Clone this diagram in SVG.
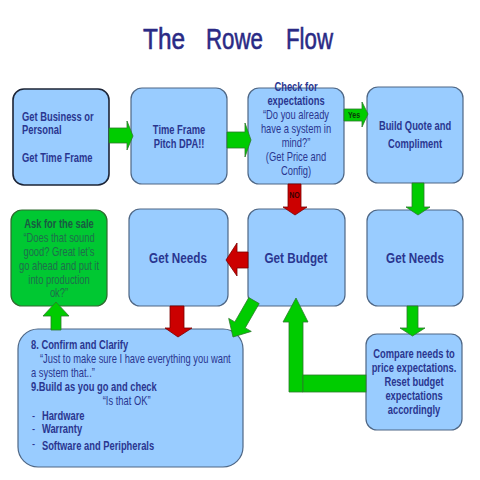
<svg xmlns="http://www.w3.org/2000/svg" width="480" height="480" viewBox="0 0 480 480">
<style>
.box{fill:#99ccff;stroke:#4f6785;stroke-width:1.2}
.gbox{fill:#00c832;stroke:#2f6a2f;stroke-width:1.2}
.ga{fill:#00cc00;stroke:#2c7a2c;stroke-width:0.8}
.ra{fill:#cc0000;stroke:#7a0000;stroke-width:0.8}
text{font-family:"Liberation Sans",Arial,sans-serif;font-size:12px;fill:#2a3690}
.b{font-weight:bold}
.big{font-size:15px;font-weight:bold}
.gt{fill:#1f6e4c}
.title{font-size:30px;fill:#2a2a85;stroke:#2a2a85;stroke-width:0.6}
.lbl{font-size:9px;font-weight:bold}
</style>
<rect width="480" height="480" fill="#ffffff"/>
<g id="title">
<text class="title" x="143" y="49" textLength="42" lengthAdjust="spacingAndGlyphs">The</text>
<text class="title" x="206" y="49" textLength="57" lengthAdjust="spacingAndGlyphs">Rowe</text>
<text class="title" x="286" y="49" textLength="47" lengthAdjust="spacingAndGlyphs">Flow</text>
</g>
<g id="n1">
<rect class="box" x="13" y="89" width="96" height="96" rx="11" style="stroke:#1c2436;stroke-width:1.6"/>
<text class="b" transform="matrix(0.78 0 0 1 22 0)"><tspan x="0" y="121">Get Business or</tspan><tspan x="0" y="134">Personal</tspan><tspan x="0" y="162">Get Time Frame</tspan></text>
</g>
<g id="n2">
<rect class="box" x="131" y="88" width="96" height="96" rx="11"/>
<text class="b" text-anchor="middle" transform="matrix(0.78 0 0 1 179 0)"><tspan x="0" y="134">Time Frame</tspan><tspan x="0" y="148">Pitch DPA!!</tspan></text>
</g>
<g id="n3">
<rect class="box" x="248" y="88" width="96" height="96" rx="11"/>
<text text-anchor="middle" transform="matrix(0.78 0 0 1 296 0)"><tspan class="b" x="0" y="91">Check for</tspan><tspan class="b" x="0" y="105">expectations</tspan><tspan x="0" y="119">“Do you already</tspan><tspan x="0" y="133">have a system in</tspan><tspan x="0" y="147">mind?”</tspan><tspan x="0" y="161">(Get Price and</tspan><tspan x="0" y="175">Config)</tspan></text>
</g>
<g id="n4">
<rect class="box" x="367" y="87" width="96" height="96" rx="11"/>
<text class="b" text-anchor="middle" transform="matrix(0.78 0 0 1 415 0)"><tspan x="0" y="130">Build Quote and</tspan><tspan x="0" y="148">Compliment</tspan></text>
</g>
<g id="n5">
<rect class="gbox" x="11" y="210" width="96" height="96" rx="11"/>
<text class="gt" text-anchor="middle" transform="matrix(0.78 0 0 1 59 0)"><tspan class="b" x="0" y="228" style="fill:#1a5a42">Ask for the sale</tspan><tspan x="0" y="242">“Does that sound</tspan><tspan x="0" y="256">good? Great let’s</tspan><tspan x="0" y="270">go ahead and put it</tspan><tspan x="0" y="284">into production</tspan><tspan x="0" y="297">ok?”</tspan></text>
</g>
<g id="n6">
<rect class="box" x="129" y="209" width="99" height="97" rx="11"/>
<text class="big" text-anchor="middle" transform="matrix(0.78 0 0 1 178 263)">Get Needs</text>
</g>
<g id="n7">
<rect class="box" x="248" y="209" width="97" height="97" rx="11"/>
<text class="big" text-anchor="middle" transform="matrix(0.78 0 0 1 296 263)">Get Budget</text>
</g>
<g id="n8">
<rect class="box" x="367" y="210" width="96" height="96" rx="11"/>
<text class="big" text-anchor="middle" transform="matrix(0.78 0 0 1 415 263)">Get Needs</text>
</g>
<g id="n9">
<rect class="box" x="18" y="329" width="225" height="138" rx="20"/>
<text transform="matrix(0.78 0 0 1 31 0)"><tspan class="b" x="0" y="349">8. Confirm and Clarify</tspan><tspan x="11.5" y="363">“Just to make sure I have everything you want</tspan><tspan x="0" y="377">a system that..”</tspan><tspan class="b" x="0" y="391">9.Build as you go and check</tspan><tspan x="92" y="405">“Is that OK”</tspan><tspan x="1.3" y="420">-</tspan><tspan class="b" x="14" y="420">Hardware</tspan><tspan x="1.3" y="433">-</tspan><tspan class="b" x="14" y="433">Warranty</tspan><tspan x="1.3" y="448">-</tspan><tspan class="b" x="14" y="450">Software and Peripherals</tspan></text>
</g>
<g id="n10">
<rect class="box" x="366" y="334" width="96" height="96" rx="11"/>
<text class="b" text-anchor="middle" transform="matrix(0.78 0 0 1 414 0)"><tspan x="0" y="358">Compare needs to</tspan><tspan x="0" y="372">price expectations.</tspan><tspan x="0" y="386">Reset budget</tspan><tspan x="0" y="400">expectations</tspan><tspan x="0" y="414">accordingly</tspan></text>
</g>
<g id="connectors">
<polygon class="ga" points="109,128 127,128 127,121 133,136 127,150 127,143 109,143"/>
<polygon class="ga" points="227,132 245,132 245,123 251,140 245,157 245,148 227,148"/>
<polygon class="ga" points="344,109 362,109 362,102 368,114 362,127 362,121 344,121"/>
<text class="lbl" style="fill:#0a3a0a" transform="matrix(0.78 0 0 1 348 118)">Yes</text>
<polygon class="ra" points="288,184 301,184 301,207 307,207 295,215 283,207 288,207"/>
<text class="lbl" style="fill:#3a0000" text-anchor="middle" transform="matrix(0.78 0 0 1 294.5 198)">NO</text>
<polygon class="ga" points="412,183 424,183 424,207 430,207 418,215 406,207 412,207"/>
<polygon class="ra" points="248,252 237,252 237,243 226,260 237,276 237,268 248,268"/>
<polygon class="ra" points="170,306 184,306 184,328 192,328 178,337 165,328 170,328"/>
<polygon class="ga" points="248.8,297.6 259.2,303.6 245.2,327.9 251.3,331.4 233,337 228.7,318.4 234.8,321.9"/>
<polygon class="ga" points="289,392 289,322 283,322 296,298 308,322 303,322 303,392"/>
<rect class="ga" x="303" y="375" width="63" height="17"/>
<polygon class="ga" points="407,306 418,306 418,328 425,328 412.5,336 400,328 407,328"/>
<polygon class="ga" points="51,330 51,316 43,316 56,302 69,316 61,316 61,330"/>
</g>
</svg>
